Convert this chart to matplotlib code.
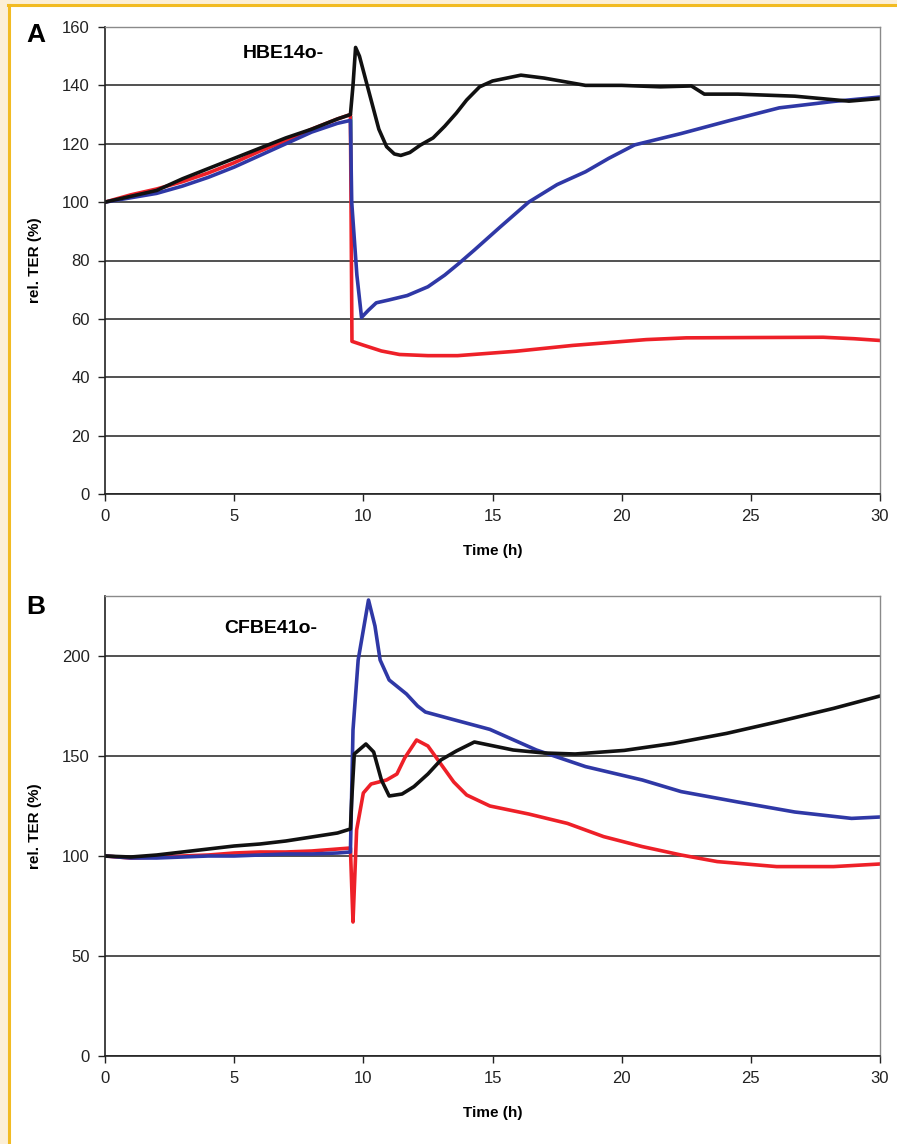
import matplotlib
matplotlib.use("Agg")
import matplotlib.pyplot as plt
from matplotlib.lines import Line2D
from matplotlib.patches import Rectangle

plt.rcParams['font.family'] = ['Liberation Sans', 'DejaVu Sans']

# ---- Panel A: HBE14o- ----
tA_black = [0, 1, 2, 3, 4, 5, 6, 7, 8, 9, 9.5, 9.6, 9.7, 9.85, 10.0, 10.3, 10.6, 10.9, 11.2, 11.45,
            11.8, 12.2, 12.7, 13.15, 13.6, 14.0, 14.5, 15.0, 16.1, 17.0, 18.6, 20.0, 21.5, 22.7,
            23.2, 24.5, 26.7, 28.8, 30]
A_black = [100, 102, 104, 108, 111.5, 115, 118.5, 122, 125, 128.5, 130, 140, 153, 150, 145, 135, 125, 119, 116.5, 116,
           117, 119.5, 122, 126, 130.5, 135, 139.5, 141.5, 143.5, 142.5, 140, 140, 139.5, 139.8,
           137, 137, 136.3, 134.6, 135.5]

tA_blue = [0, 1, 2, 3, 4, 5, 6, 7, 8, 9, 9.5, 9.55, 9.75, 9.93, 10.2, 10.5, 11.0, 11.7, 12.5, 13.15,
           13.7, 14.3, 15.3, 16.4, 17.5, 18.6, 19.5, 20.5, 22.3, 24.2, 26.1, 28.2, 30]
A_blue = [100, 101.5, 103, 105.5, 108.5, 112, 116, 120, 124, 127, 128, 100, 75, 60.5, 63, 65.5, 66.5, 68, 71, 75,
          79, 83.6, 91.5, 100, 106, 110.4, 115, 119.6, 123.5, 128, 132.3, 134.5, 136]

tA_red = [0, 1, 2, 3, 4, 5, 6, 7, 8, 9, 9.5, 9.56, 10, 10.7, 11.4, 12.5, 13.65, 15, 15.9, 18.1,
          20.95, 22.5, 25, 27.8, 29, 30]
A_red = [100, 102.5, 104.5, 107, 110, 113.5, 117.5, 121, 125, 128.5, 130, 52.3, 51, 49, 47.8, 47.4, 47.4, 48.3, 48.9, 50.9,
         52.9, 53.5, 53.6, 53.7, 53.2, 52.6]

# ---- Panel B: CFBE41o- ----
tB_black = [0, 1, 2, 3, 4, 5, 6, 7, 8, 9, 9.5, 9.55, 9.65, 10.1, 10.4, 10.7, 11.0, 11.5, 11.96, 12.5,
            13.0, 13.6, 14.3, 15.8, 17.0, 18.2, 20.1, 22.0, 24.06, 26, 28.2, 30]
B_black = [100, 99.5, 100.5, 102, 103.5, 105, 106, 107.5, 109.5, 111.5, 113.5, 128, 151, 156, 152, 138, 130, 131, 134.7, 141,
           148, 152.5, 157, 153, 151.5, 151, 152.8, 156.3, 161.3, 167, 173.8, 180]

tB_blue = [0, 1, 2, 3, 4, 5, 6, 7, 8, 9, 9.5, 9.6, 9.8, 10.2, 10.45, 10.65, 11.0, 11.67, 12.1, 12.4,
           13.4, 14.9, 16.7, 18.6, 20.8, 22.3, 24.5, 26.7, 28.9, 30]
B_blue = [100, 99, 99, 99.5, 100, 100, 100.5, 101, 101, 101.5, 102, 163, 198, 228, 215, 198, 188, 181, 175, 172,
          168.5, 163.3, 153, 144.7, 138, 132.2, 127, 122, 118.8, 119.5]

tB_red = [0, 1, 2, 3, 4, 5, 6, 7, 8, 9, 9.5, 9.55, 9.6, 9.74, 10.0, 10.3, 10.9, 11.3, 11.6, 12.06,
          12.5, 13.0, 13.5, 14.0, 14.9, 16.4, 17.9, 19.3, 20.8, 22.3, 23.7, 26, 28.2, 30]
B_red = [100, 99, 99.5, 100, 100.5, 101.5, 102, 102, 102.5, 103.5, 104, 85, 67, 113, 131.5, 136, 138, 141, 149, 158,
         155, 146, 137, 130.5, 125, 121, 116.3, 109.7, 104.7, 100.5, 97.2, 94.7, 94.7, 96]

# treatment marker line (panel A)
t_treat = 9.55
treat_span = [60, 129]

x_ticks = [0, 5, 10, 15, 20, 25, 30]
A_yticks = [0, 20, 40, 60, 80, 100, 120, 140, 160]
B_yticks = [0, 50, 100, 150, 200]

BLACK = "#111111"
BLUE = "#2f38a6"
RED = "#ee2028"

W, H = 897, 1144
fig = plt.figure(figsize=(W / 100, H / 100), dpi=100)
fig.patch.set_facecolor("white")


def ax_rect(left, top, right, bottom):
    return [left / W, 1 - bottom / H, (right - left) / W, (bottom - top) / H]


def style(ax, yticks, ymax):
    ax.set_xlim(0, 30)
    ax.set_ylim(0, ymax)
    ax.set_xticks(x_ticks)
    ax.set_yticks(yticks)
    ax.yaxis.grid(True, color="#222222", lw=1.1)
    ax.set_axisbelow(True)
    for s in ["top", "right"]:
        ax.spines[s].set_color("#8a8a8a")
        ax.spines[s].set_linewidth(1.0)
    for s in ["left", "bottom"]:
        ax.spines[s].set_color("#222222")
        ax.spines[s].set_linewidth(1.2)
    ax.tick_params(direction="out", length=5, width=1, labelsize=12, colors="#222222", pad=6)
    ax.set_xlabel("Time (h)", fontsize=11, fontweight="bold", labelpad=14)
    ax.set_ylabel("rel. TER (%)", fontsize=11, fontweight="bold", labelpad=14)


def draw(ax, t, y, color):
    ax.plot(t, y, color=color, lw=2.6, solid_capstyle="round", solid_joinstyle="round")


axA = fig.add_axes(ax_rect(105, 27, 880, 494))
axA.plot([t_treat, t_treat], treat_span, color="#3fd5d5", lw=1.2, zorder=1)
draw(axA, tA_red, A_red, RED)
draw(axA, tA_blue, A_blue, BLUE)
draw(axA, tA_black, A_black, BLACK)
style(axA, A_yticks, 160)
axA.text(6.9, 151, "HBE14o-", fontsize=14, fontweight="bold", ha="center", va="center")

axB = fig.add_axes(ax_rect(105, 596, 880, 1056))
draw(axB, tB_red, B_red, RED)
draw(axB, tB_blue, B_blue, BLUE)
draw(axB, tB_black, B_black, BLACK)
style(axB, B_yticks, 230)
axB.text(6.4, 214, "CFBE41o-", fontsize=14, fontweight="bold", ha="center", va="center")

# panel letters
fig.text(36 / W, 1 - 35 / H, "A", fontsize=19, fontweight="bold", ha="center", va="center")
fig.text(36 / W, 1 - 607 / H, "B", fontsize=19, fontweight="bold", ha="center", va="center")

# page frame: cream margin with golden rule on left and top
fig.patches.append(Rectangle((0, 0), 7 / W, 1, transform=fig.transFigure, color="#fcefd6", zorder=0))
fig.patches.append(Rectangle((0, 1 - 3 / H), 1, 3 / H, transform=fig.transFigure, color="#fcefd6", zorder=0))
fig.lines.append(Line2D([8.5 / W, 8.5 / W], [0, 1 - 4.5 / H], transform=fig.transFigure, color="#f2bb22", lw=2.2))
fig.lines.append(Line2D([7.5 / W, 1], [1 - 4.5 / H, 1 - 4.5 / H], transform=fig.transFigure, color="#f2bb22", lw=2.2))

plt.savefig("out.png", dpi=100)
plt.close()
